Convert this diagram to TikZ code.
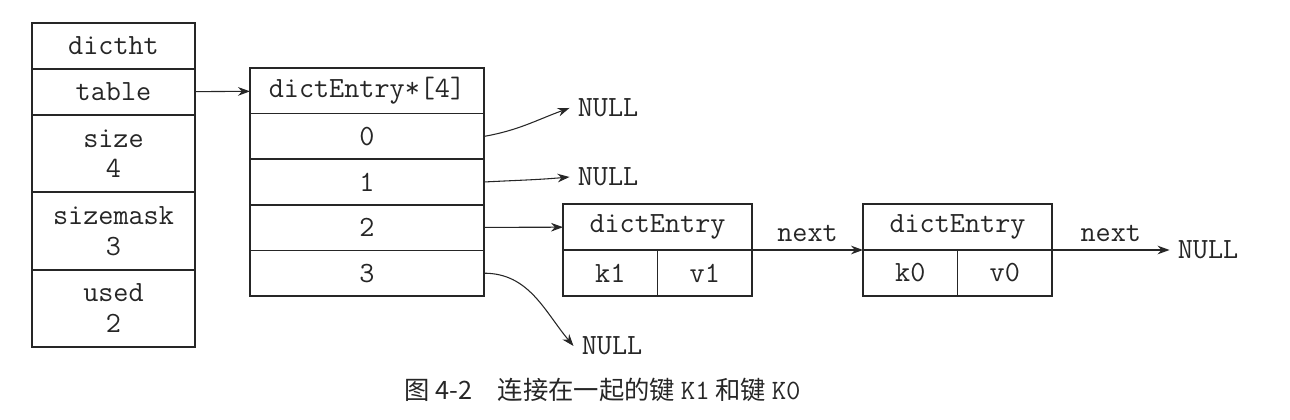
\documentclass[tikz,border=0pt]{standalone}
\usepackage{fontspec}
\newfontfamily\cjk{Noto Sans CJK SC}
\usetikzlibrary{arrows.meta, positioning}
\tikzset{>={Stealth[length=9pt,width=6.5pt]},auto,
    cell/.style={draw,line width=1.3pt,outer sep=0pt,inner sep=0pt,
        minimum width=122.25pt,minimum height=34.5pt,align=center,
        font=\ttfamily\fontsize{22}{23}\selectfont},
    tall/.style={cell,minimum height=58pt},
    slot/.style={cell,minimum width=175.5pt,minimum height=34.2pt},
    head/.style={cell,minimum width=141.75pt},
    half/.style={cell,minimum width=70.875pt},
    nullnode/.style={inner sep=6pt,font=\ttfamily\fontsize{22}{23}\selectfont},
    link/.style={line width=0.8pt},
    textnode/.style={}}

\begin{document}
\begin{tikzpicture}
[x=0.75pt,y=-0.75pt,black!85]
\useasboundingbox (0,0) rectangle (1290,420);
% dictht
\node[cell] (dictht) [anchor=north west] at (32,23) {dictht};
\node[cell] (table) [below=0pt of dictht] {table};
\node[tall] (size) [below=0pt of table] {size\\4};
\node[tall] (sizemask) [below=0pt of size] {sizemask\\3};
\node[tall] (used) [below=0pt of sizemask] {used\\2};
% buckets
\node[slot] (array) [anchor=north west] at (250,68) {dictEntry*[4]};
\node[slot] (b0) [below=0pt of array] {0};
\node[slot] (b1) [below=0pt of b0] {1};
\node[slot] (b2) [below=0pt of b1] {2};
\node[slot] (b3) [below=0pt of b2] {3};
% entries
\node[head] (e1) [anchor=north west] at (563,204) {dictEntry};
\node[half] (k1) [below right=0pt of e1.south west] {k1};
\node[half] (v1) [right=0pt of k1] {v1};
\node[head] (e0) [anchor=north west] at (863,204) {dictEntry};
\node[half] (k0) [below right=0pt of e0.south west] {k0};
\node[half] (v0) [right=0pt of k0] {v0};
% NULL
\node[nullnode] (null0) at (608,108) {NULL};
\node[nullnode] (null1) at (608,177) {NULL};
\node[nullnode] (null3) at (612,346) {NULL};
\node[nullnode] (null4) at (1208,250) {NULL};
\node[textnode] (caption) [anchor=west] at (400,390)
    {\cjk\fontsize{19}{22}\selectfont 图 4-2\quad 连接在一起的键 {\ttfamily\fontsize{21}{22}\selectfont K1} 和键 {\ttfamily\fontsize{21}{22}\selectfont K0}};
\path[->,link]
    (table)	edge 	[] 	(array)
    (b0.east)	edge 	[out=10,in=200] 	(null0.west)
    (b1.east)	edge 	[out=3,in=185] 	(null1.west)
    (b2)	edge 	[] 	(e1)
    (b3.east)	edge 	[out=0,in=130] 	(null3.west)
    (e1.south east)	edge 	[] 	node	[above=5pt,inner sep=1pt,font=\ttfamily\fontsize{22}{23}\selectfont] 	{next}	(e0.south west)
    (e0.south east)	edge 	[] 	node	[above=5pt,inner sep=1pt,font=\ttfamily\fontsize{22}{23}\selectfont] 	{next}	(null4.west);
\end{tikzpicture}
\end{document}
